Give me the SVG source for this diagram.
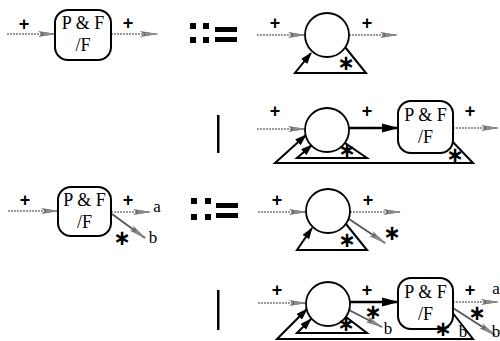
<svg xmlns="http://www.w3.org/2000/svg" width="500" height="341" viewBox="0 0 500 341">
<defs>
<marker id="ga" markerUnits="userSpaceOnUse" markerWidth="18" markerHeight="8" viewBox="0 0 18 8" refX="17" refY="4" orient="auto"><path d="M0,1 L4,4 L0,7 L18,4 Z" fill="#6a6a6a"/><path d="M5,2 L18,4 L5,6 Z" fill="#8a8a8a"/></marker>
<marker id="ba" markerUnits="userSpaceOnUse" markerWidth="12" markerHeight="8" viewBox="0 0 12 8" refX="11" refY="4" orient="auto"><path d="M0,0 L12,4 L0,8 Z" fill="#000"/></marker>
<marker id="bb" markerUnits="userSpaceOnUse" markerWidth="17" markerHeight="10" viewBox="0 0 17 10" refX="16" refY="5" orient="auto"><path d="M0,0.5 L17,5 L0,9.5 Z" fill="#000"/></marker>
</defs>
<style>
.g{stroke:#7a7a7a;stroke-width:1.3;stroke-dasharray:2 1;fill:none;marker-end:url(#ga)}
.gb{stroke:#555;stroke-width:1.8;fill:none;marker-end:url(#ga)}
.k{stroke:#000;stroke-width:2.4;fill:none;marker-end:url(#bb)}
.t{stroke:#000;stroke-width:2;fill:none;stroke-linejoin:miter;marker-end:url(#ba)}
.c{stroke:#000;stroke-width:1.8;fill:#fff}
.b{stroke:#000;stroke-width:2;fill:#fff}
.l{font-family:"Liberation Serif",serif;font-size:18px;text-anchor:middle;fill:#000}
.s{font-family:"Liberation Serif",serif;font-size:17px;text-anchor:middle;fill:#000}
.p{font-family:"Liberation Sans",sans-serif;font-size:18px;font-weight:bold;text-anchor:middle;fill:#000}
.a{font-family:"DejaVu Sans",sans-serif;font-size:21px;font-weight:bold;text-anchor:middle;fill:#000}
</style>
<g id="connectors">
<line class="g" x1="7" y1="34" x2="55" y2="34"/>
<line class="g" x1="111" y1="34" x2="157" y2="34"/>
<line class="g" x1="257" y1="35" x2="305" y2="35"/>
<line class="g" x1="349" y1="35" x2="397" y2="35"/>
<polyline class="t" points="345,47 366,73 295,73 311,53"/>
<line class="g" x1="257" y1="129" x2="305" y2="129"/>
<line class="k" x1="349" y1="128" x2="398" y2="128"/>
<line class="g" x1="453" y1="128" x2="498" y2="128"/>
<polyline class="t" points="345,143 367,158 297,158 312,145"/>
<polyline class="t" points="451,140 473,163 275,163 306,135"/>
<line class="g" x1="8" y1="211" x2="58" y2="211"/>
<line class="g" x1="111" y1="212" x2="150" y2="212"/>
<line class="gb" x1="112" y1="214" x2="145" y2="238"/>
<line class="g" x1="258" y1="212" x2="306" y2="212"/>
<line class="g" x1="350" y1="212" x2="400" y2="212"/>
<line class="gb" x1="349" y1="219" x2="385" y2="243"/>
<polyline class="t" points="346,224 367,250 297,250 312,228"/>
<line class="g" x1="258" y1="303" x2="306" y2="303"/>
<line class="k" x1="350" y1="302" x2="398" y2="302"/>
<line class="g" x1="453" y1="302" x2="498" y2="302"/>
<line class="gb" x1="349" y1="310" x2="382" y2="327"/>
<line class="gb" x1="453" y1="308" x2="495" y2="335"/>
<polyline class="t" points="346,317 367,333 297,333 311,319"/>
<polyline class="t" points="452,312 473,339 277,339 307,309"/>
</g>
<g id="node-pf1">
<rect class="b" x="55" y="10" width="56" height="50" rx="13"/>
<text class="l" x="83" y="29">P &amp; F</text>
<text class="l" x="83" y="51">/F</text>
</g>
<g id="node-circle1"><circle class="c" cx="327" cy="35" r="22"/></g>
<g id="node-circle2"><circle class="c" cx="327" cy="130" r="22"/></g>
<g id="node-pf2">
<rect class="b" x="398" y="101" width="55" height="52" rx="13"/>
<text class="l" x="425.5" y="121">P &amp; F</text>
<text class="l" x="425.5" y="143">/F</text>
</g>
<g id="node-pf3">
<rect class="b" x="58" y="187" width="53" height="49" rx="13"/>
<text class="l" x="84.5" y="206">P &amp; F</text>
<text class="l" x="84.5" y="228">/F</text>
</g>
<g id="node-circle3"><circle class="c" cx="328" cy="211" r="22"/></g>
<g id="node-circle4"><circle class="c" cx="328" cy="304" r="22"/></g>
<g id="node-pf4">
<rect class="b" x="398" y="278" width="55" height="51" rx="13"/>
<text class="l" x="425.5" y="298">P &amp; F</text>
<text class="l" x="425.5" y="320">/F</text>
</g>
<g id="symbols" fill="#000">
<rect x="190" y="23" width="6" height="6"/><rect x="203" y="23" width="6" height="6"/>
<rect x="190" y="37" width="6" height="6"/><rect x="203" y="37" width="6" height="6"/>
<rect x="215" y="27" width="22" height="5"/><rect x="215" y="37" width="22" height="5"/>
<rect x="191" y="198" width="6" height="6"/><rect x="205" y="198" width="6" height="6"/>
<rect x="191" y="214" width="6" height="6"/><rect x="205" y="214" width="6" height="6"/>
<rect x="216" y="203" width="22" height="5"/><rect x="216" y="213" width="22" height="5"/>
<rect x="217" y="115" width="2.5" height="38"/>
<rect x="217" y="290" width="2.5" height="40"/>
</g>
<g id="labels">
<text class="p" x="24" y="30">+</text>
<text class="p" x="128" y="29">+</text>
<text class="p" x="275" y="29">+</text>
<text class="p" x="367" y="29">+</text>
<text class="p" x="275" y="117">+</text>
<text class="p" x="367" y="117">+</text>
<text class="p" x="470" y="117">+</text>
<text class="p" x="25" y="206">+</text>
<text class="p" x="128" y="206">+</text>
<text class="p" x="277" y="206">+</text>
<text class="p" x="368" y="206">+</text>
<text class="p" x="277" y="296">+</text>
<text class="p" x="367" y="296">+</text>
<text class="p" x="470" y="296">+</text>
<text class="a" x="346" y="70">∗</text>
<text class="a" x="347" y="157">∗</text>
<text class="a" x="455" y="162">∗</text>
<text class="a" x="122" y="245">∗</text>
<text class="a" x="347" y="247">∗</text>
<text class="a" x="392" y="240">∗</text>
<text class="a" x="346" y="331">∗</text>
<text class="a" x="373" y="319">∗</text>
<text class="a" x="477" y="320">∗</text>
<text class="a" x="443" y="336">∗</text>
<text class="s" x="157" y="212">a</text>
<text class="s" x="153" y="243">b</text>
<text class="s" x="496" y="294">a</text>
<text class="s" x="388" y="334">b</text>
<text class="s" x="463" y="337">b</text>
<text class="s" x="496" y="337">b</text>
</g>
</svg>
